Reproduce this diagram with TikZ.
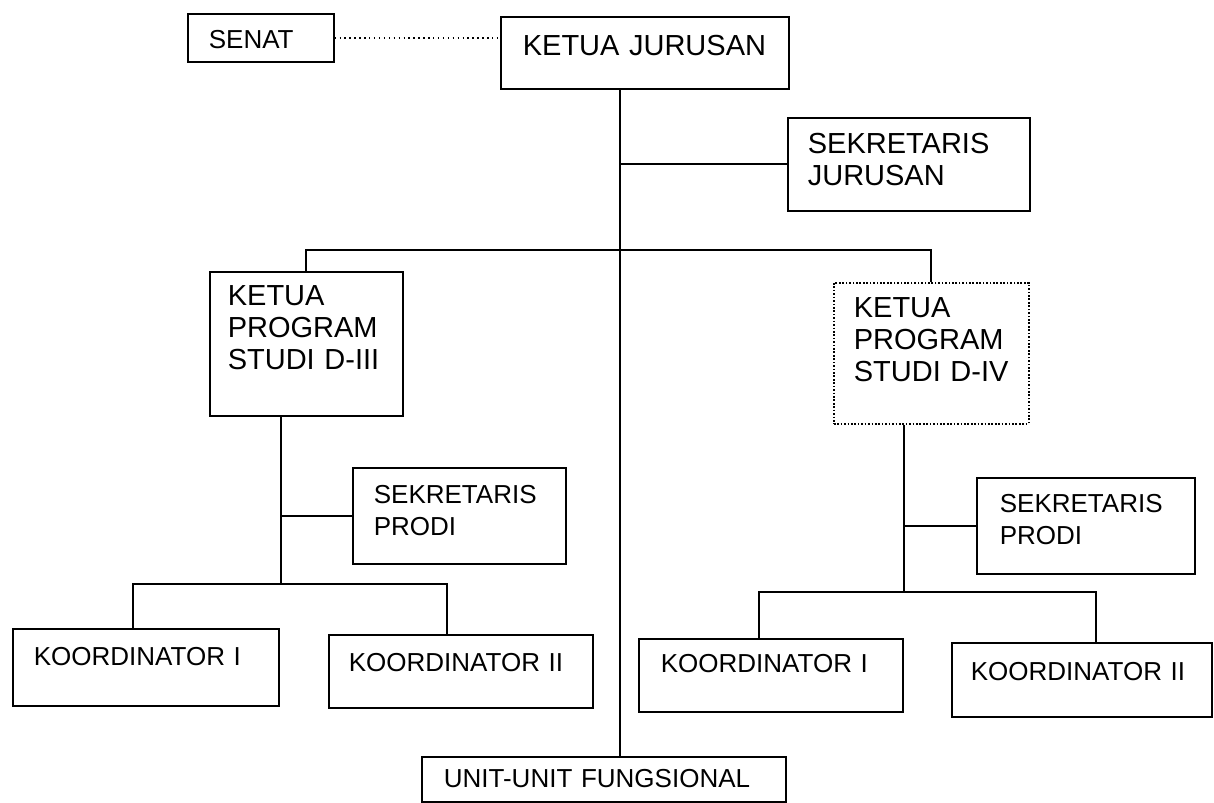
\documentclass[tikz,border=0pt]{standalone}
\usepackage{fontspec}
\setmainfont{Liberation Sans}
\usepackage{tikz}
\usetikzlibrary{positioning,calc}

\tikzset{
  jabatan/.style={draw,line width=0.95pt,anchor=north west,align=left,
                  inner ysep=0pt,font=\fontsize{16.5}{18}\selectfont},
  jabatankecil/.style={jabatan,font=\fontsize{14.8}{18}\selectfont},
  garis/.style={line width=0.95pt}
}

\begin{document}
\begin{tikzpicture}[x=0.02cm,y=-0.02cm]
\fill[white] (0,0) rectangle (1214,803);
\useasboundingbox (0,0) rectangle (1214,803);

% pimpinan jurusan
\node[jabatankecil,inner xsep=0.42cm,text width=2.08cm,text height=0.70cm,
      text depth=0.26cm] (senat) at (187,13) {SENAT};
\node[jabatan,inner xsep=0.44cm,text width=4.88cm,text height=0.78cm,
      text depth=0.66cm] (ketua) at (500,16) {KETUA~JURUSAN};
\node[jabatan,inner xsep=0.40cm,text width=4.04cm,text height=0.72cm,
      text depth=1.14cm] (sekjur) at (787,117) {SEKRETARIS\\JURUSAN};

% program studi
\node[jabatan,inner xsep=0.36cm,text width=3.14cm,text height=0.68cm,
      text depth=2.20cm] (kpd3) at (209,271) {KETUA\\PROGRAM\\\mbox{STUDI D-III}};
\node[jabatan,densely dotted,inner xsep=0.40cm,text width=3.10cm,text height=0.70cm,
      text depth=2.12cm] (kpd4) at (833,282) {KETUA\\PROGRAM\\\mbox{STUDI D-IV}};

\node[jabatankecil,inner xsep=0.42cm,text width=3.42cm,text height=0.72cm,
      text depth=1.20cm] (sekpL) at (352,467) {SEKRETARIS\\PRODI};
\node[jabatankecil,inner xsep=0.46cm,text width=3.44cm,text height=0.70cm,
      text depth=1.22cm] (sekpR) at (976,477) {SEKRETARIS\\PRODI};

\node[jabatankecil,inner xsep=0.42cm,text width=4.48cm,text height=0.74cm,
      text depth=0.80cm] (koor1L) at (12,628) {KOORDINATOR~I};
\node[jabatankecil,inner xsep=0.40cm,text width=4.48cm,text height=0.74cm,
      text depth=0.72cm] (koor2L) at (328,634) {KOORDINATOR~II};
\node[jabatankecil,inner xsep=0.44cm,text width=4.40cm,text height=0.68cm,
      text depth=0.78cm] (koor1R) at (638,638) {KOORDINATOR~I};
\node[jabatankecil,inner xsep=0.38cm,text width=4.44cm,text height=0.76cm,
      text depth=0.72cm] (koor2R) at (951,642) {KOORDINATOR~II};

\node[jabatankecil,inner xsep=0.44cm,text width=6.40cm,text height=0.62cm,
      text depth=0.28cm] (unit) at (421,756) {UNIT-UNIT FUNGSIONAL};

% titik simpul
\coordinate (sumbu) at (620,0);
\coordinate (bar) at (620,250);
\coordinate (kiri) at (281,584);
\coordinate (kiri1) at (133,584);
\coordinate (kiri2) at (447,584);
\coordinate (kanan) at (904,592);
\coordinate (kanan1) at (759,592);
\coordinate (kanan2) at (1096,592);

% garis
\draw[line width=0.8pt,dotted] (senat.east) -- (senat.east -| ketua.west);
\draw[garis] (ketua.south -| sumbu) -- (unit.north -| sumbu);
\draw[garis] (sekjur.west) -- (sekjur.west -| sumbu);
\draw[garis] (kpd3.north) |- (bar) -| (kpd4.north);

\draw[garis] (kpd3.south -| kiri) -- (kiri);
\draw[garis] (sekpL.west) -- (sekpL.west -| kiri);
\draw[garis] (koor1L.north -| kiri1) -- (kiri1) -- (kiri2) -- (koor2L.north -| kiri2);

\draw[garis] (kpd4.south -| kanan) -- (kanan);
\draw[garis] (sekpR.west) -- (sekpR.west -| kanan);
\draw[garis] (koor1R.north -| kanan1) -- (kanan1) -- (kanan2) -- (koor2R.north -| kanan2);
\end{tikzpicture}
\end{document}
